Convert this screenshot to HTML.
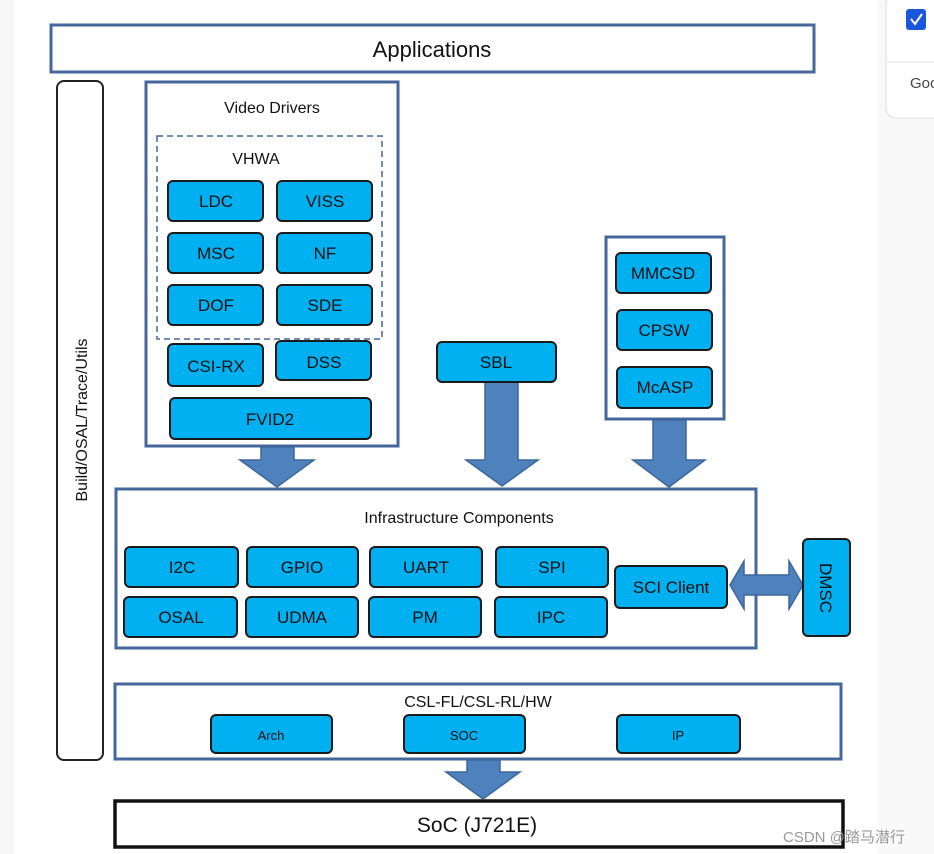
<!DOCTYPE html>
<html><head><style>
html,body{margin:0;padding:0;background:#fff;}
svg{display:block;font-family:"Liberation Sans",sans-serif;}
</style></head><body>
<svg width="934" height="854" viewBox="0 0 934 854" xmlns="http://www.w3.org/2000/svg">
<rect x="0" y="0" width="934" height="854" fill="#fff"/>
<rect x="0" y="0" width="14" height="854" fill="#f7f7f7"/>
<rect x="878" y="0" width="56" height="854" fill="#f9f9f9"/>
<rect x="886" y="-6" width="60" height="124" rx="10" fill="#fff" stroke="#ddd"/>
<line x1="886" y1="62" x2="934" y2="62" stroke="#e3e3e3"/>
<rect x="906" y="9" width="20" height="21" rx="3" fill="#1a56db"/>
<path d="M911 19 l4 5 l7 -10" stroke="#fff" stroke-width="2" fill="none"/>
<text x="910" y="88" font-size="15" fill="#444">Goo</text>

<g stroke="#45679b" stroke-width="3" fill="#fff">
<rect x="51" y="25" width="763" height="47"/>
<rect x="146" y="82" width="252" height="364"/>
<rect x="606" y="237" width="118" height="182"/>
<rect x="116" y="489" width="640" height="159"/>
<rect x="115" y="684" width="726" height="75"/>
</g>
<rect x="57" y="81" width="46" height="679" rx="7" fill="#fff" stroke="#222" stroke-width="2"/>
<rect x="115" y="801" width="728" height="46" fill="#fff" stroke="#111" stroke-width="3.5"/>
<rect x="157" y="136" width="225" height="203" fill="none" stroke="#45679b" stroke-width="1.5" stroke-dasharray="6,4"/>

<g fill="#4f81bd" stroke="#3b679c" stroke-width="1.5">
<path d="M261 447 h33 v13 h20 l-37 27 l-37 -27 h21z"/>
<path d="M485 382 h33 v78 h20 l-36 26 l-36 -26 h19z"/>
<path d="M653 420 h33 v40 h19 l-36 27 l-36 -27 h20z"/>
<path d="M467 760 h33 v12 h20 l-37 27 l-37 -27 h21z"/>
<path d="M730 585 l14 -24 v14 h45 v-14 l14 24 l-14 24 v-14 h-45 v14z"/>
</g>

<g fill="#00b0f0" stroke="#1a1a1a" stroke-width="2">
<rect x="168" y="181" width="95" height="40" rx="5"/>
<rect x="277" y="181" width="95" height="40" rx="5"/>
<rect x="168" y="233" width="95" height="40" rx="5"/>
<rect x="277" y="233" width="95" height="40" rx="5"/>
<rect x="168" y="285" width="95" height="40" rx="5"/>
<rect x="277" y="285" width="95" height="40" rx="5"/>
<rect x="168" y="344" width="95" height="42" rx="5"/>
<rect x="276" y="341" width="95" height="39" rx="5"/>
<rect x="170" y="398" width="201" height="41" rx="5"/>
<rect x="437" y="342" width="119" height="40" rx="5"/>
<rect x="616" y="253" width="95" height="40" rx="5"/>
<rect x="617" y="310" width="95" height="40" rx="5"/>
<rect x="617" y="367" width="95" height="41" rx="5"/>
<rect x="125" y="547" width="113" height="40" rx="5"/>
<rect x="247" y="547" width="111" height="40" rx="5"/>
<rect x="370" y="547" width="112" height="40" rx="5"/>
<rect x="496" y="547" width="112" height="40" rx="5"/>
<rect x="124" y="597" width="113" height="40" rx="5"/>
<rect x="246" y="597" width="112" height="40" rx="5"/>
<rect x="369" y="597" width="112" height="40" rx="5"/>
<rect x="495" y="597" width="112" height="40" rx="5"/>
<rect x="615" y="566" width="112" height="42" rx="5"/>
<rect x="803" y="539" width="47" height="97" rx="5"/>
<rect x="211" y="715" width="121" height="38" rx="5"/>
<rect x="404" y="715" width="121" height="38" rx="5"/>
<rect x="617" y="715" width="123" height="38" rx="5"/>
</g>

<g fill="#111" text-anchor="middle" font-size="17">
<text x="432" y="57" font-size="22">Applications</text>
<text x="272" y="113" font-size="16">Video Drivers</text>
<text x="256" y="164" font-size="16">VHWA</text>
<text x="216" y="207">LDC</text><text x="325" y="207">VISS</text>
<text x="216" y="259">MSC</text><text x="325" y="259">NF</text>
<text x="216" y="311">DOF</text><text x="325" y="311">SDE</text>
<text x="216" y="372">CSI-RX</text><text x="324" y="368">DSS</text>
<text x="270" y="425">FVID2</text>
<text x="496" y="368">SBL</text>
<text x="663" y="279">MMCSD</text><text x="664" y="336">CPSW</text><text x="665" y="393">McASP</text>
<text x="459" y="523" font-size="16">Infrastructure Components</text>
<text x="182" y="573">I2C</text><text x="302" y="573">GPIO</text><text x="426" y="573">UART</text><text x="552" y="573">SPI</text>
<text x="181" y="623">OSAL</text><text x="302" y="623">UDMA</text><text x="425" y="623">PM</text><text x="551" y="623">IPC</text>
<text x="671" y="593">SCI Client</text>
<text transform="translate(820,588) rotate(90)" font-size="17">DMSC</text>
<text transform="translate(87,420) rotate(-90)" font-size="16">Build/OSAL/Trace/Utils</text>
<text x="478" y="707" font-size="16">CSL-FL/CSL-RL/HW</text>
<text x="271" y="740" font-size="13">Arch</text><text x="464" y="740" font-size="13">SOC</text><text x="678" y="740" font-size="13">IP</text>
<text x="477" y="832" font-size="21">SoC (J721E)</text>
</g>
<text x="783" y="842" font-size="15" fill="#999" font-family="Liberation Sans,'Noto Sans CJK SC',sans-serif">CSDN @踏马潜行</text>
</svg>
</body></html>
